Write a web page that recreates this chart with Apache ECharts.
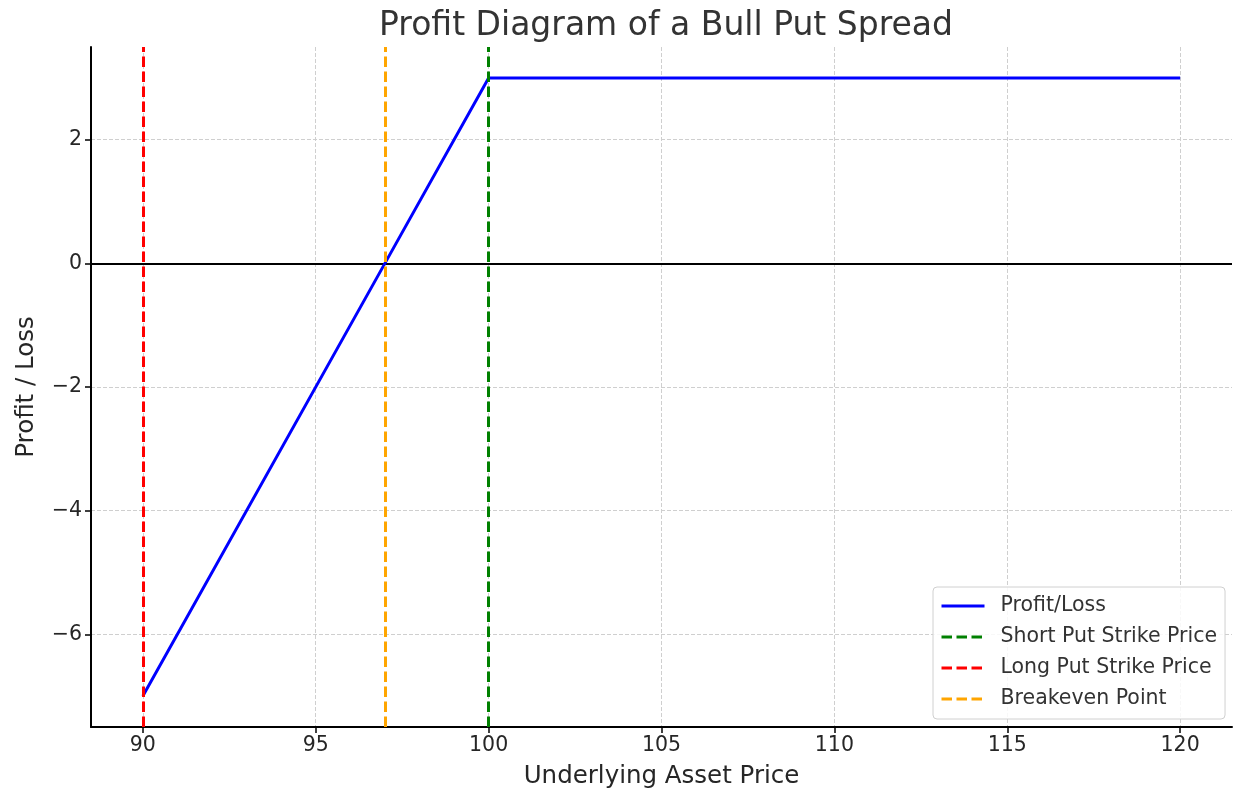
<!DOCTYPE html>
<html><head><meta charset="utf-8">
<script src="https://cdn.jsdelivr.net/npm/echarts@6/dist/echarts.min.js"></script>
<style>html,body{margin:0;padding:0;background:#fff}#c{width:1233px;height:790px}</style>
</head><body><div id="c"></div>
<script>
// Data
const prices = [90, 97, 100, 120];
const profitLoss = [-7, 0, 3, 3];
const shortStrike = 100;
const longStrike = 90;
const breakeven = 97;
const xTicks = [90, 95, 100, 105, 110, 115, 120];
const yTicks = [-6, -4, -2, 0, 2];
const seriesNames = ['Profit/Loss', 'Short Put Strike Price', 'Long Put Strike Price', 'Breakeven Point'];

const FONT = 'DejaVu Sans';
const TXT = '#262626';
const dash = [10.5, 4.5];
const fmt = v => (v < 0 ? '\u2212' + Math.abs(v) : String(v));

function vline(name, color, x) {
  return {
    name, type: 'line', data: [], symbol: 'none',
    lineStyle: { color, width: 3, type: dash }, itemStyle: { color },
    markLine: {
      silent: true, symbol: 'none', label: { show: false },
      lineStyle: { color, width: 3, type: dash }, animation: false,
      data: [{ xAxis: x }]
    },
    z: 5
  };
}

const chart = echarts.init(document.getElementById('c'), null, { renderer: 'canvas' });
chart.setOption({
  animation: false,
  backgroundColor: '#fff',
  textStyle: { fontFamily: FONT },
  title: {
    text: 'Profit Diagram of a Bull Put Spread', left: 661, top: 5, textAlign: 'center',
    textStyle: { fontFamily: FONT, fontSize: 33, fontWeight: 'normal', color: '#333' }
  },
  grid: { left: 91, right: 1, top: 47, bottom: 63, containLabel: false, outerBoundsMode: 'none' },
  legend: {
    orient: 'vertical', left: 933, top: 587,
    data: seriesNames,
    itemWidth: 43, itemHeight: 14, itemGap: 9,
    padding: [8, 8, 9, 7],
    itemStyle: { opacity: 0 },
    lineStyle: { width: 3 },
    backgroundColor: 'rgba(255,255,255,0.85)', borderColor: '#d0d0d0', borderWidth: 1, borderRadius: 4,
    textStyle: { fontFamily: FONT, fontSize: 20.5, color: '#333', padding: [0, 0, 0, 11], lineHeight: 22 }
  },
  xAxis: {
    type: 'value', min: 88.5, max: 121.5,
    name: 'Underlying Asset Price', nameLocation: 'middle', nameGap: 37,
    nameTextStyle: { fontFamily: FONT, fontSize: 24.5, color: TXT },
    axisLine: { onZero: false, lineStyle: { color: '#000', width: 2 } },
    axisTick: { show: true, length: 6, lineStyle: { color: '#000', width: 1.5 }, customValues: xTicks },
    axisLabel: { customValues: xTicks, fontFamily: FONT, fontSize: 20.5, color: TXT, margin: 8, formatter: fmt },
    splitLine: { show: true, customValues: xTicks, lineStyle: { color: '#cfcfcf', width: 1, type: [4, 2] } }
  },
  yAxis: {
    type: 'value', min: -7.5, max: 3.5,
    name: 'Profit / Loss', nameLocation: 'middle', nameGap: 52,
    nameTextStyle: { fontFamily: FONT, fontSize: 24.5, color: TXT },
    axisLine: { show: true, lineStyle: { color: '#000', width: 2 } },
    axisTick: { show: true, length: 6, lineStyle: { color: '#000', width: 1.5 }, customValues: yTicks },
    axisLabel: { customValues: yTicks, fontFamily: FONT, fontSize: 20.5, color: TXT, margin: 9, formatter: fmt },
    splitLine: { show: true, customValues: yTicks, lineStyle: { color: '#cfcfcf', width: 1, type: [4, 2] } }
  },
  series: [
    {
      name: seriesNames[0], type: 'line', symbol: 'none', z: 4,
      data: prices.map((p, i) => [p, profitLoss[i]]),
      lineStyle: { color: '#0000ff', width: 3 }, itemStyle: { color: '#0000ff' },
      markLine: {
        silent: true, symbol: 'none', label: { show: false }, animation: false, z: 1,
        lineStyle: { color: '#000', width: 2, type: 'solid' },
        data: [{ yAxis: 0 }]
      }
    },
    vline(seriesNames[1], '#008000', shortStrike),
    vline(seriesNames[2], '#ff0000', longStrike),
    vline(seriesNames[3], '#ffa500', breakeven)
  ]
});
</script></body></html>
